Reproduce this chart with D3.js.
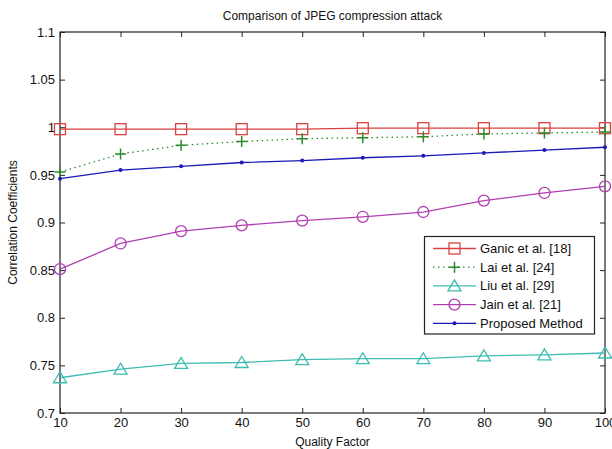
<!DOCTYPE html>
<html><head><meta charset="utf-8">
<script src="https://cdn.jsdelivr.net/npm/d3@7"></script>
<style>body{margin:0;background:#fff}text{font-family:"Liberation Sans",Arial,sans-serif;fill:#111}</style>
</head><body><svg id="c" width="612" height="449"></svg>
<script>
const quality = [10,20,30,40,50,60,70,80,90,100];
const ganic = [0.998,0.998,0.998,0.998,0.998,0.999,0.999,0.999,0.999,0.999];
const lai = [0.953,0.972,0.981,0.985,0.988,0.989,0.990,0.993,0.994,0.995];
const liu = [0.737,0.746,0.752,0.753,0.756,0.757,0.757,0.760,0.761,0.763];
const jain = [0.851,0.878,0.891,0.897,0.902,0.906,0.911,0.923,0.931,0.938];
const proposed = [0.946,0.955,0.959,0.963,0.965,0.968,0.970,0.973,0.976,0.979];
const yTicks = [0.7,0.75,0.8,0.85,0.9,0.95,1,1.05,1.1];
const xTicks = [10,20,30,40,50,60,70,80,90,100];
const seriesNames = ["Ganic et al. [18]","Lai et al. [24]","Liu et al. [29]","Jain et al. [21]","Proposed Method"];

const series = [
 {name:seriesNames[0], v:ganic, color:"#d9423f", marker:"square", dash:null},
 {name:seriesNames[1], v:lai, color:"#2f8a2f", marker:"plus", dash:"1.5,3.5"},
 {name:seriesNames[2], v:liu, color:"#3dbdb2", marker:"triangle", dash:null},
 {name:seriesNames[3], v:jain, color:"#b03fb0", marker:"circle", dash:null},
 {name:seriesNames[4], v:proposed, color:"#1a1ab8", marker:"dot", dash:null}
];

const svg = d3.select("#c");
const L=60,R=605,T=32,B=413;
const x = d3.scaleLinear().domain([10,100]).range([L,R]);
const y = d3.scaleLinear().domain([0.7,1.1]).range([B,T]);

svg.append("text").attr("x",(L+R)/2).attr("y",20).attr("text-anchor","middle").style("font-size","12px").text("Comparison of JPEG compression attack");

const fmt = d => d===1 ? "1" : String(d);
const gx = svg.append("g").attr("transform",`translate(0,${B})`).call(d3.axisBottom(x).tickValues(xTicks).tickSize(-5).tickPadding(5).tickFormat(d3.format("d")));
const gxt = svg.append("g").attr("transform",`translate(0,${T})`).call(d3.axisTop(x).tickValues(xTicks).tickSize(-5).tickFormat(""));
const gy = svg.append("g").attr("transform",`translate(${L},0)`).call(d3.axisLeft(y).tickValues(yTicks).tickSize(-5).tickPadding(5).tickFormat(fmt));
const gyr = svg.append("g").attr("transform",`translate(${R},0)`).call(d3.axisRight(y).tickValues(yTicks).tickSize(-5).tickFormat(""));
[gx,gxt,gy,gyr].forEach(g=>{g.select(".domain").remove();g.selectAll("line").attr("stroke","#222");g.selectAll("text").style("font-size","13px").style("font-family","Liberation Sans, Arial, sans-serif").attr("fill","#111");});
svg.append("rect").attr("x",L).attr("y",T).attr("width",R-L).attr("height",B-T).attr("fill","none").attr("stroke","#222").attr("stroke-width",1.2);

svg.append("text").attr("x",(L+R)/2).attr("y",446).attr("text-anchor","middle").style("font-size","12px").text("Quality Factor");
svg.append("text").attr("transform",`translate(17,${(T+B)/2}) rotate(-90)`).attr("text-anchor","middle").style("font-size","12px").text("Correlation Coefficients");

function drawMarker(g,type,cx,cy,color){
  if(type==="square") g.append("rect").attr("x",cx-5.5).attr("y",cy-5.5).attr("width",11).attr("height",11).attr("fill","none").attr("stroke",color).attr("stroke-width",1.3);
  else if(type==="plus"){g.append("path").attr("d",`M${cx-5.5},${cy}H${cx+5.5}M${cx},${cy-5.5}V${cy+5.5}`).attr("stroke",color).attr("stroke-width",1.5);}
  else if(type==="triangle") g.append("path").attr("d",`M${cx},${cy-6}L${cx+6.5},${cy+5}L${cx-6.5},${cy+5}Z`).attr("fill","none").attr("stroke",color).attr("stroke-width",1.3);
  else if(type==="circle") g.append("circle").attr("cx",cx).attr("cy",cy).attr("r",5.5).attr("fill","none").attr("stroke",color).attr("stroke-width",1.3);
  else if(type==="dot") g.append("circle").attr("cx",cx).attr("cy",cy).attr("r",2).attr("fill",color);
}

const line = d3.line().x((d,i)=>x(quality[i])).y(d=>y(d));
series.forEach(s=>{
  const g = svg.append("g");
  g.append("path").attr("d",line(s.v)).attr("fill","none").attr("stroke",s.color).attr("stroke-width",1.3).attr("stroke-dasharray",s.dash);
  s.v.forEach((d,i)=>drawMarker(g,s.marker,x(quality[i]),y(d),s.color));
});

// legend
const lg = svg.append("g");
lg.append("rect").attr("x",424.5).attr("y",236.5).attr("width",170).attr("height",97.5).attr("fill","#fff").attr("stroke","#222").attr("stroke-width",1.2);
series.forEach((s,i)=>{
  const yy = 248.5 + i*18.7;
  lg.append("line").attr("x1",433).attr("x2",476).attr("y1",yy).attr("y2",yy).attr("stroke",s.color).attr("stroke-width",1.3).attr("stroke-dasharray",s.dash);
  drawMarker(lg,s.marker,454.5,yy,s.color);
  lg.append("text").attr("x",480).attr("y",yy+4.5).style("font-size","13px").text(s.name);
});
</script></body></html>
